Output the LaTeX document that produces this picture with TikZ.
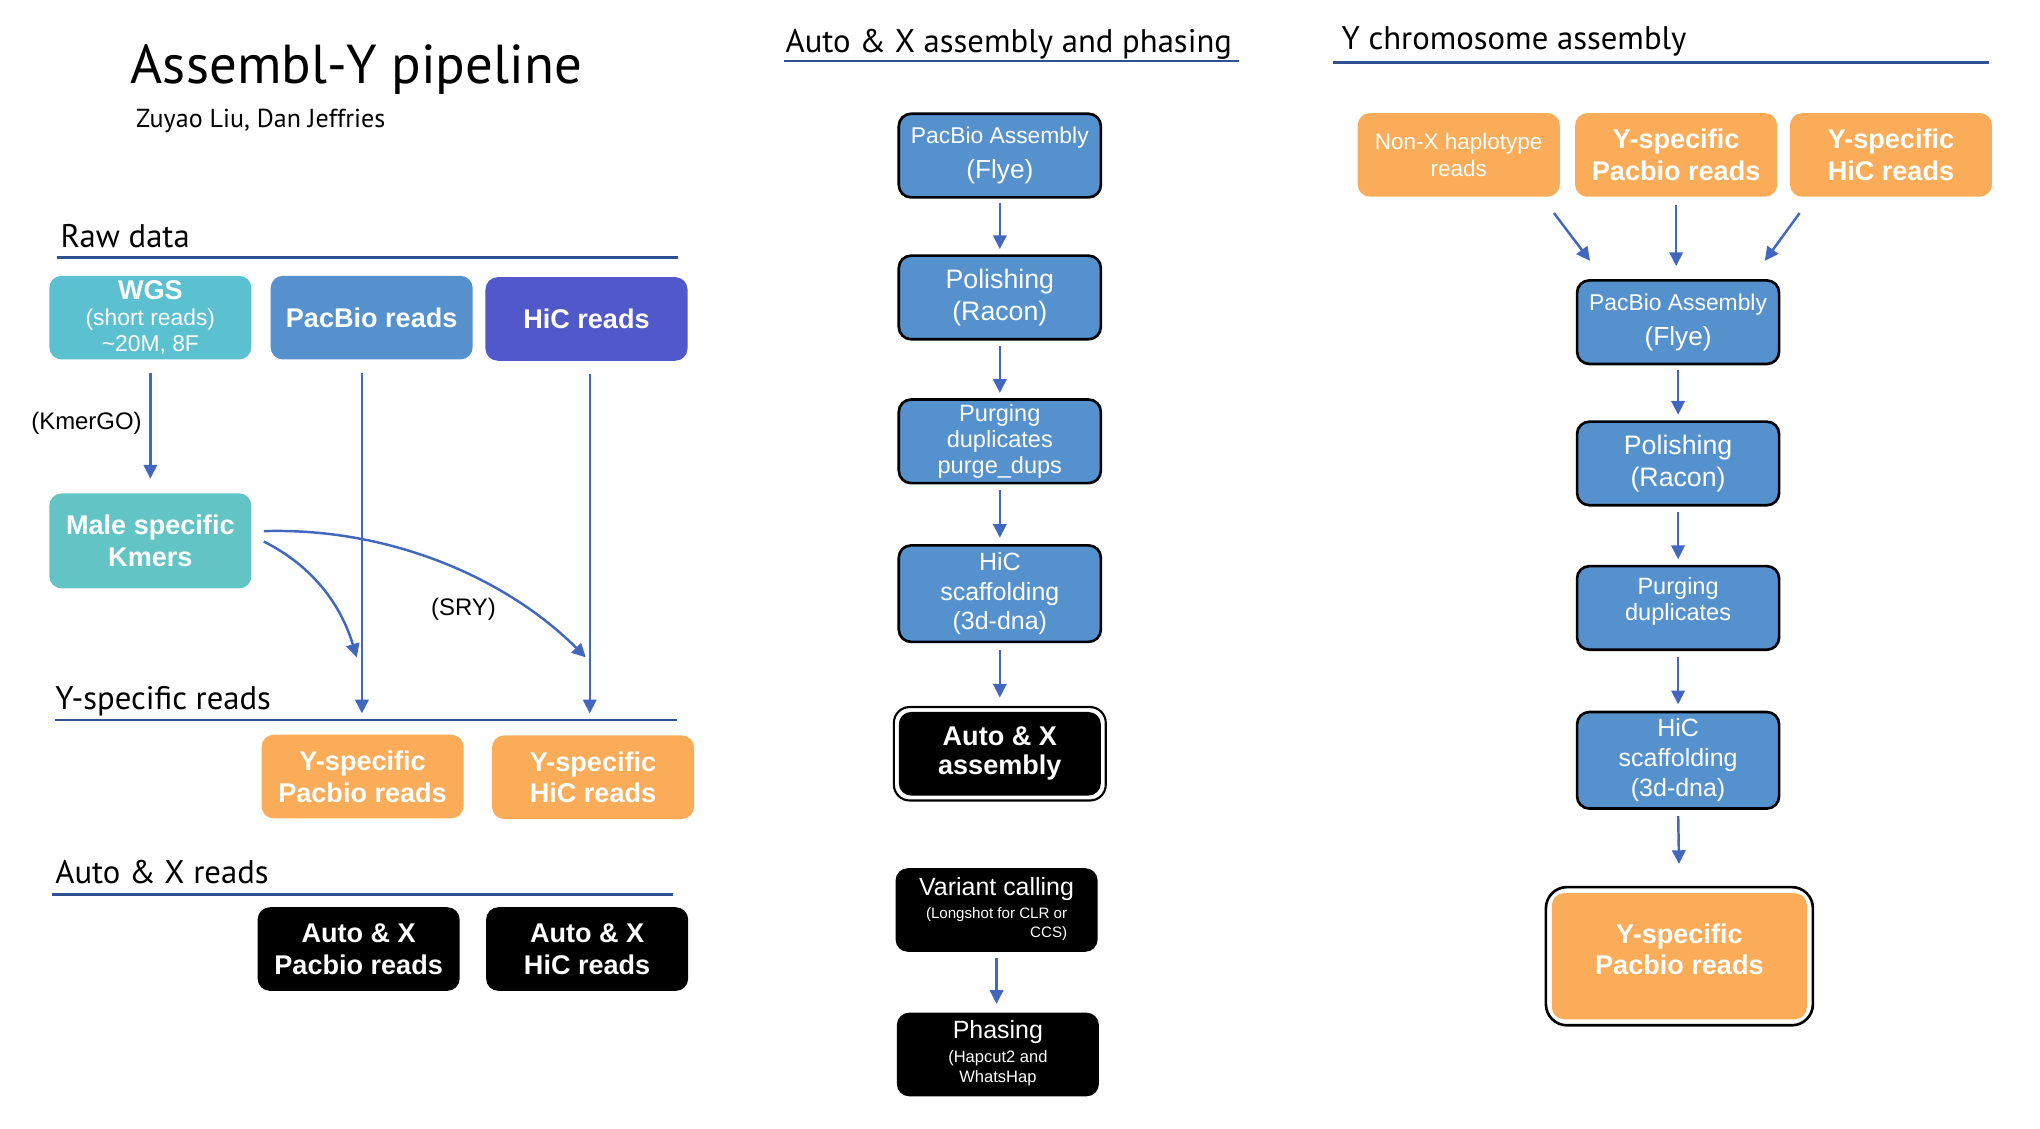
\documentclass[tikz,border=0pt]{standalone}
\usepackage{fontspec}
\setmainfont{Liberation Sans}
\newfontfamily\headfont{PT Sans}
\usepackage{xcolor}
\usepackage{tikz}
\usetikzlibrary{arrows.meta,positioning,calc,fit}

\definecolor{wgsteal}{RGB}{91,192,208}
\definecolor{maleteal}{RGB}{98,196,196}
\definecolor{pbblue}{RGB}{85,145,204}
\definecolor{hicblue}{RGB}{81,88,201}
\definecolor{yorange}{RGB}{251,172,88}
\definecolor{arrblue}{RGB}{66,103,190}
\definecolor{rulenavy}{RGB}{47,80,145}

\begin{document}
\begin{tikzpicture}[x=0.013018cm, y=-0.013018cm,
    box/.style={rounded corners=3.5pt, minimum width=2.02cm, minimum height=0.836cm,
        align=center, text=white, inner sep=1pt, font=\fontsize{6.5}{7.5}\selectfont},
    readbox/.style={box, font=\bfseries\fontsize{7.7}{9}\selectfont},
    stepblue/.style={box, fill=pbblue, draw=black, line width=0.75pt},
    frame/.style={draw=black, line width=0.6pt, rounded corners=4.5pt, inner sep=1.2pt},
    heading/.style={inner sep=0pt, anchor=base west, font=\headfont\fontsize{9.3}{11}\selectfont},
    rule/.style={rulenavy, line width=0.75pt},
    lbl/.style={inner sep=1pt, font=\fontsize{6.8}{8}\selectfont},
    arr/.style={arrblue, line width=0.7pt, -{Triangle[length=3.9pt, width=3.8pt]}}
]
    \useasboundingbox (0,0) rectangle (1567,866.5);

    % Titles and section headings
    \node[heading, font=\headfont\fontsize{15.6}{18}\selectfont] (title) at (100,64) {Assembl-Y pipeline};
    \node[heading, font=\headfont\fontsize{7.4}{9}\selectfont] (authors) at (104,98) {Zuyao Liu, Dan Jeffries};
    \node[heading] (rawhead) at (46,190) {Raw data};
    \node[heading] (yhead) at (42,545) {Y-specific reads};
    \node[heading] (axhead) at (42,679) {Auto \& X reads};
    \node[heading] (asmhead) at (603,40) {Auto \& X assembly and phasing};
    \node[heading] (ychrhead) at (1030,38) {Y chromosome assembly};
    \draw[rule] (44,198) -- (521,198);
    \draw[rule] (42,553) -- (520,553);
    \draw[rule] (40,687) -- (517,687);
    \draw[rule] (602,47) -- (952,47);
    \draw[rule] (1024,48) -- (1528,48);

    % Raw data and read sets
    \node[box, fill=wgsteal] (wgs) at (115.5,244) {{\bfseries\fontsize{7.7}{8}\selectfont WGS}\\(short reads)\\\textasciitilde 20M, 8F};
    \node[readbox, fill=pbblue] (pbraw) at (285.5,244) {PacBio reads};
    \node[readbox, fill=hicblue] (hicraw) at (450.5,245) {HiC reads};
    \node[readbox, fill=maleteal, minimum height=0.95cm] (male) at (115.5,415.5) {Male specific\\Kmers};
    \node[readbox, fill=yorange] (ypb) at (278.5,596.5) {Y-specific\\Pacbio reads};
    \node[readbox, fill=yorange] (yhic) at (455.5,597) {Y-specific\\HiC reads};
    \node[readbox, fill=black] (axpb) at (275.5,729) {Auto \& X\\Pacbio reads};
    \node[readbox, fill=black] (axhic) at (451,729) {Auto \& X\\HiC reads};

    \coordinate (ypbin) at (278,548);
    \coordinate (yhicin) at (453,548);
    \coordinate (kpb) at (274,505);
    \coordinate (khic) at (450,505);
    \draw[arr, shorten <=3.7pt, shorten >=4pt] (wgs.south) -- (male.north);
    \node[lbl, anchor=east] (kmergo) at (112,325) {(KmerGO)};
    \draw[arr, shorten <=3.7pt] (pbraw.south -| ypbin) -- (ypbin);
    \draw[arr, shorten <=3.7pt] (hicraw.south -| yhicin) -- (yhicin);
    \draw[arr] ($(male.east)+(9,0.5)$) .. controls +(38,19) and +(-12,-40) .. (kpb);
    \draw[arr] ($(male.east)+(9,-7.5)$) .. controls +(98,-3) and +(-60,-60) .. (khic);
    \node[lbl] (sry) at (356,468) {(SRY)};

    % Auto & X assembly and phasing
    \node[stepblue, font=\fontsize{7.45}{10}\selectfont] (mflye) at (768,119.5) {{\fontsize{6.5}{8}\selectfont PacBio Assembly}\\(Flye)};
    \node[stepblue, font=\fontsize{7.6}{9}\selectfont] (mpol) at (768,228.5) {Polishing\\(Racon)};
    \node[stepblue, font=\fontsize{6.7}{7.3}\selectfont] (mpurge) at (768,339) {Purging\\duplicates\\purge\_dups};
    \node[stepblue, minimum height=0.965cm, font=\fontsize{7.1}{8.5}\selectfont] (mhic) at (768,456) {HiC\\scaffolding\\(3d-dna)};
    \node[readbox, fill=black, font=\bfseries\fontsize{7.7}{8.2}\selectfont] (maxasm) at (768,579) {Auto \& X\\assembly};
    \node[frame, fit=(maxasm)] (maxframe) {};
    \node[box, fill=black, font=\fontsize{7.1}{6.6}\selectfont] (mvar) at (765.5,699)
        {Variant calling\\{\fontsize{4.3}{5.2}\selectfont\begin{tabular}[t]{@{}r@{}}(Longshot for CLR or\\CCS)\end{tabular}}};
    \node[box, fill=black, font=\fontsize{7.1}{6.7}\selectfont] (mphase) at (766.5,810)
        {Phasing\\{\fontsize{4.7}{5.6}\selectfont\begin{tabular}[t]{@{}c@{}}(Hapcut2 and\\WhatsHap\end{tabular}}};
    \draw[arr, shorten <=1.3pt, shorten >=1.5pt] (mflye.south) -- (mpol.north);
    \draw[arr, shorten <=1.4pt, shorten >=1.5pt] (mpol.south) -- (mpurge.north);
    \draw[arr, shorten <=1.6pt, shorten >=1.8pt] (mpurge.south) -- (mhic.north);
    \draw[arr, shorten <=1.8pt, shorten >=2.4pt] (mhic.south) -- (maxframe.north);
    \draw[arr, shorten <=1.6pt, shorten >=2.3pt] (mvar.south) -- (mvar.south |- mphase.north);

    % Y chromosome assembly
    \node[box, fill=yorange, font=\fontsize{6.4}{7.5}\selectfont] (rnonx) at (1120.5,119) {Non-X haplotype\\reads};
    \node[readbox, fill=yorange] (rypb) at (1287.5,119) {Y-specific\\Pacbio reads};
    \node[readbox, fill=yorange] (ryhic) at (1452.5,119) {Y-specific\\HiC reads};
    \node[stepblue, font=\fontsize{7.45}{10}\selectfont] (rflye) at (1289,247.5) {{\fontsize{6.5}{8}\selectfont PacBio Assembly}\\(Flye)};
    \node[stepblue, font=\fontsize{7.6}{9}\selectfont] (rpol) at (1289,356) {Polishing\\(Racon)};
    \node[stepblue, font=\fontsize{6.7}{7.3}\selectfont, text depth=5pt] (rpurge) at (1289,467) {Purging\\duplicates};
    \node[stepblue, minimum height=0.965cm, font=\fontsize{7.1}{8.5}\selectfont] (rhic) at (1289,584) {HiC\\scaffolding\\(3d-dna)};
    \node[readbox, fill=yorange, minimum width=2.55cm, minimum height=1.262cm, text depth=4pt] (ryfin) at (1290,734.5) {Y-specific\\Pacbio reads};
    \node[frame, fit=(ryfin), inner sep=1.5pt, line width=0.75pt, rounded corners=6pt] (ryframe) {};
    \draw[arr] ($(rnonx.south east)+(-5,12)$) -- ($(rflye.north west)+(11,-14)$);
    \draw[arr, shorten <=2.2pt, shorten >=3.7pt] (rypb.south) -- (rypb.south |- rflye.north);
    \draw[arr] ($(ryhic.south west)+(8,12)$) -- ($(rflye.north east)+(-12,-14)$);
    \draw[arr, shorten <=1.4pt, shorten >=1.6pt] (rflye.south) -- (rpol.north);
    \draw[arr, shorten <=1.6pt, shorten >=1.6pt] (rpol.south) -- (rpurge.north);
    \draw[arr, shorten <=1.6pt, shorten >=1.8pt] (rpurge.south) -- (rhic.north);
    \draw[arr, shorten <=1.8pt, shorten >=6.2pt] (rhic.south) -- (ryframe.north);
\end{tikzpicture}
\end{document}
